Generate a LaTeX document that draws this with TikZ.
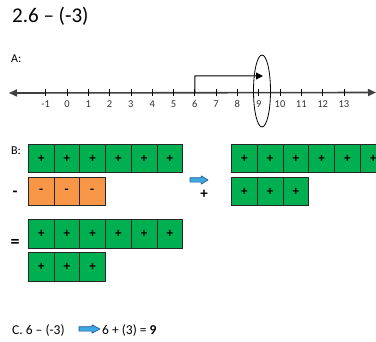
\documentclass[tikz,border=0pt]{standalone}
\usepackage{fontspec}
\setmainfont{Carlito}
\usetikzlibrary{arrows.meta}
\definecolor{boxgreen}{RGB}{0,176,80}
\definecolor{boxorange}{RGB}{247,150,70}
\definecolor{arrowblue}{RGB}{60,170,225}
\definecolor{arrowedge}{RGB}{30,80,150}
\tikzset{
  gbox/.style={draw=black!85, line width=0.8pt, fill=boxgreen, minimum width=25.7pt, minimum height=28.5pt, inner sep=0pt, font=\fontsize{13}{13}\selectfont\bfseries},
  obox/.style={draw=black!85, line width=0.8pt, fill=boxorange, minimum width=25.5pt, minimum height=28.5pt, inner sep=0pt, font=\fontsize{13}{13}\selectfont\bfseries},
  lbl/.style={anchor=base west, inner sep=0pt},
  tick/.style={draw=black, line width=0.7pt},
  numlbl/.style={anchor=base, inner sep=0pt, font=\fontsize{10.5}{10.5}\selectfont, text=black!80},
  bluearrow/.style={fill=arrowblue, draw=arrowedge, line width=0.6pt, line join=round}
}
\newcommand{\blockarrow}[3]{% x0, yc, length
  \draw[bluearrow] (#1,#2-2.2) -- (#1+0.62*#3,#2-2.2) -- (#1+0.62*#3,#2-4.2) -- (#1+#3,#2) -- (#1+0.62*#3,#2+4.2) -- (#1+0.62*#3,#2+2.2) -- (#1,#2+2.2) -- cycle;}
\begin{document}
\begin{tikzpicture}[x=1pt,y=-1pt]
\useasboundingbox (0,0) rectangle (376,342);
% title
\node[lbl, font=\fontsize{21}{21}\selectfont] (title) at (12,23) {2.6 – (-3)};
% A
\node[lbl, font=\fontsize{12}{12}\selectfont] (A) at (11,63) {A:};
% number line
\coordinate (nlL) at (9,93);
\coordinate (nlR) at (376,92.5);
\draw[line width=1.6pt, {Triangle[length=8pt,width=7pt]}-{Triangle[length=8pt,width=7pt]}, color=black!75] (nlL) -- (nlR);
\foreach \n in {-1,...,13}{
  \pgfmathsetmacro{\xx}{67+21.3*\n}
  \coordinate (t\n) at (\xx,92.8);
  \draw[tick] (\xx,89) -- (\xx,96.5);
  \node[numlbl] (l\n) at (\xx,107.5) {\n};
}
% jump arrow
\coordinate (jtop) at (195,76);
\coordinate (jend) at (263,76);
\draw[line width=1pt, -{Triangle[length=7pt,width=7pt]}] (t6) -- (jtop) -- (jend);
% ellipse around 9
\draw[line width=0.8pt] (262,91) ellipse [x radius=8.5, y radius=36];
% B
\node[lbl, font=\fontsize{12}{12}\selectfont] (B) at (11,155) {B:};
\foreach \i in {0,...,5}{
  \node[gbox, anchor=north west] (r1\i) at (28+25.7*\i,144) {+};
  \node[gbox, anchor=north west] (r3\i) at (28+25.7*\i,219.5) {+};
  \node[gbox, anchor=north west] (q1\i) at (231+25.8*\i,144) {+};
}
\foreach \i in {0,...,2}{
  \node[obox, anchor=north west] (r2\i) at (28+25.5*\i,177) {-};
  \node[gbox, anchor=north west] (r4\i) at (28+25.7*\i,252.5) {+};
  \node[gbox, anchor=north west] (q2\i) at (231+25.8*\i,177) {+};
}
\node[font=\fontsize{16}{16}\selectfont\bfseries, inner sep=0pt] (minus) at (15,193.5) {-};
\node[font=\fontsize{18}{18}\selectfont\bfseries, inner sep=0pt] (eq) at (15,243) {=};
\blockarrow{190}{180}{18}
\node[font=\fontsize{15}{15}\selectfont\bfseries, inner sep=0pt] (plus) at (204,194) {+};
% C
\node[lbl, font=\fontsize{13.5}{13.5}\selectfont] (C1) at (12,335) {C. 6 – (-3)};
\blockarrow{79}{329}{21}
\node[lbl, font=\fontsize{13.5}{13.5}\selectfont] (C2) at (102,335) {6 + (3) = \textbf{9}};
\end{tikzpicture}
\end{document}
